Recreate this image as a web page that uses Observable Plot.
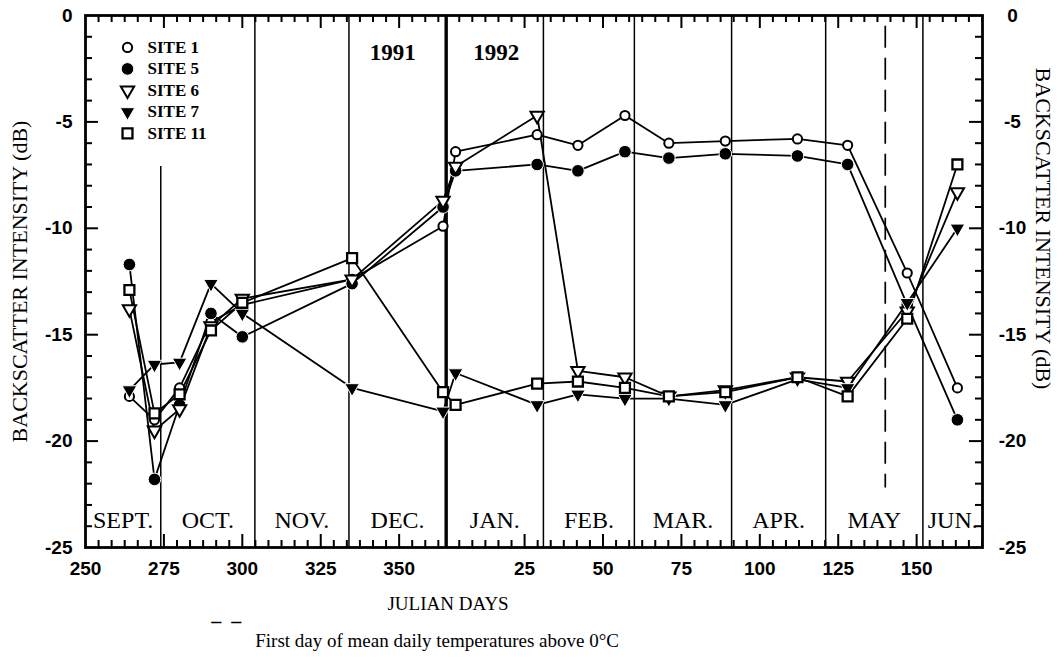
<!DOCTYPE html>
<html><head><meta charset="utf-8">
<script src="https://cdn.jsdelivr.net/npm/d3@7"></script>
<script src="https://cdn.jsdelivr.net/npm/@observablehq/plot@0.6"></script>
<style>body{margin:0;background:#fff}</style>
</head><body><div id="chart"></div>
<script>
// ---- data ----
const days1991 = [264, 272, 280, 290, 300, 335, 364];
const days1992 = [3, 29, 42, 57, 71, 89, 112, 128, 147, 163];
const site1  = [-17.9, -19.0, -17.5, -14.4, -13.6, -12.4, -9.9, -6.4, -5.6, -6.1, -4.7, -6.0, -5.9, -5.8, -6.1, -12.1, -17.5];
const site5  = [-11.7, -21.8, -18.3, -14.0, -15.1, -12.6, -9.0, -7.3, -7.0, -7.3, -6.4, -6.7, -6.5, -6.6, -7.0, -13.6, -19.0];
const site6  = [-13.8, -19.5, -18.5, -14.6, -13.3, -12.4, -8.7, -7.1, -4.7, -16.7, -17.0, -17.9, -17.6, -17.0, -17.2, -13.9, -8.3];
const site7  = [-17.6, -16.4, -16.3, -12.6, -14.0, -17.5, -18.6, -16.8, -18.3, -17.8, -18.0, -18.0, -18.3, -17.1, -17.5, -13.5, -10.0];
const site11 = [-12.9, -18.7, -17.8, -14.8, -13.5, -11.4, -17.7, -18.3, -17.3, -17.2, -17.5, -17.9, -17.7, -17.0, -17.9, -14.25, -7.0];
const sites = ["SITE 1", "SITE 5", "SITE 6", "SITE 7", "SITE 11"];
const monthLabels = ["SEPT.", "OCT.", "NOV.", "DEC.", "JAN.", "FEB.", "MAR.", "APR.", "MAY", "JUN."];
// month boundaries in days counted from 1 Jan 1991 (1992 days + 365)
const monthBounds = [250, 274, 304, 334, 365, 396, 425, 456, 486, 517, 536];
const xTicks1991 = [250, 275, 300, 325, 350];
const xTicks1992 = [25, 50, 75, 100, 125, 150];
const yTicks = [0, -5, -10, -15, -20, -25];
const yearLabels = ["1991", "1992"];
const thawDay1992 = 140;

// ---- layout ----
const W = 1064, H = 665;
const M = {top: 15, right: 82, bottom: 118, left: 85};
const xDomain = [250, 536], yDomain = [-25, 0];
const kx = (W - M.left - M.right) / (xDomain[1] - xDomain[0]);
const ky = (H - M.top - M.bottom) / (yDomain[1] - yDomain[0]);
const YEAR = 365;

const days = [...days1991, ...days1992.map(d => d + YEAR)];
const values = [site1, site5, site6, site7, site11];
const rows = sites.flatMap((s, i) => days.map((d, j) => ({site: s, day: d, v: values[i][j]})));

// tick positions: 6 subdivisions per 25 days, restarting each year
const step = 25 / 6;
const xMinor = [], xMajor = [];
for (let k = 1; 250 + k * step < YEAR - 0.01; k++) {
  const t = 250 + k * step;
  (Math.abs(t / 25 - Math.round(t / 25)) < 1e-6 ? xMajor : xMinor).push(t);
}
for (let k = 1; YEAR + k * step < xDomain[1]; k++) {
  const d = k * step;
  (Math.abs(d / 25 - Math.round(d / 25)) < 1e-6 ? xMajor : xMinor).push(YEAR + d);
}
const yMinor = d3.range(-24, 0).filter(v => v % 5 !== 0);
const yMajor = [-20, -15, -10, -5];

const triDown = {
  draw(ctx, size) {
    const s = Math.sqrt(size) * 1.25, h = s * Math.sqrt(3) / 2;
    ctx.moveTo(-s / 2, -h / 3);
    ctx.lineTo(s / 2, -h / 3);
    ctx.lineTo(0, 2 * h / 3);
    ctx.closePath();
  }
};
const markerStyles = [
  {symbol: "circle", fill: "white", stroke: "black", strokeWidth: 2, r: 4.6},
  {symbol: "circle", fill: "black", stroke: "white", strokeWidth: 1, r: 6.3},
  {symbol: triDown, fill: "white", stroke: "black", strokeWidth: 2, r: 6},
  {symbol: triDown, fill: "black", stroke: "white", strokeWidth: 1, r: 6.6},
  {symbol: "square", fill: "white", stroke: "black", strokeWidth: 2.3, r: 5.6}
];

const serif = "'Liberation Serif', 'Times New Roman', serif";
const sans = "'Liberation Sans', Arial, sans-serif";
const fmt = t => t > YEAR ? String(t - YEAR) : String(t);
const T = {fill: "black", lineAnchor: "middle"};

const marks = [
  // month separators
  Plot.ruleX(monthBounds.filter(d => d !== YEAR && d > 274 && d < 536), {x: d => d, stroke: "black", strokeWidth: 1.5}),
  Plot.ruleX([274], {x: d => d, y1: -7.1, y2: -25, stroke: "black", strokeWidth: 1.5}),
  Plot.ruleX([YEAR], {x: d => d, stroke: "black", strokeWidth: 3.4}),
  Plot.ruleX([thawDay1992 + YEAR], {x: d => d, y1: -0.5, y2: -22.2, stroke: "black", strokeWidth: 1.7, strokeDasharray: "22,10"}),
  // series lines
  Plot.line(rows, {x: "day", y: "v", z: "site", stroke: "black", strokeWidth: 1.8}),
  // markers
  ...sites.map((s, i) => Plot.dot(rows.filter(r => r.site === s), {x: "day", y: "v", ...markerStyles[i]})),
  // legend
  ...sites.map((s, i) => Plot.dot([s], {y: -1.5 - i * 1.01, frameAnchor: "left", dx: 42, ...markerStyles[i]})),
  Plot.text(sites, {y: (d, i) => -1.5 - i * 1.01, frameAnchor: "left", dx: 62, text: d => d, textAnchor: "start",
    fontFamily: serif, fontWeight: "bold", fontSize: 17, ...T}),
  // frame
  Plot.frame({stroke: "black", strokeWidth: 2.8}),
  // inward ticks
  Plot.ruleX(xMinor, {x: d => d, y1: -25, y2: -25 + 7 / ky, stroke: "black", strokeWidth: 2}),
  Plot.ruleX(xMajor, {x: d => d, y1: -25, y2: -25 + 13 / ky, stroke: "black", strokeWidth: 2}),
  Plot.ruleX(xMinor, {x: d => d, y1: 0, y2: -7 / ky, stroke: "black", strokeWidth: 2}),
  Plot.ruleX(xMajor, {x: d => d, y1: 0, y2: -13 / ky, stroke: "black", strokeWidth: 2}),
  Plot.ruleY(yMinor, {y: d => d, x1: 250, x2: 250 + 7 / kx, stroke: "black", strokeWidth: 2}),
  Plot.ruleY(yMajor, {y: d => d, x1: 250, x2: 250 + 13 / kx, stroke: "black", strokeWidth: 2}),
  Plot.ruleY(yMinor, {y: d => d, x1: 536, x2: 536 - 7 / kx, stroke: "black", strokeWidth: 2}),
  Plot.ruleY(yMajor, {y: d => d, x1: 536, x2: 536 - 13 / kx, stroke: "black", strokeWidth: 2}),
  // tick labels
  Plot.text([...xTicks1991, ...xTicks1992.map(d => d + YEAR)], {x: d => d, frameAnchor: "bottom", dy: 21, text: fmt,
    textAnchor: "middle", fontFamily: sans, fontWeight: "bold", fontSize: 19, ...T}),
  Plot.text(yTicks, {y: d => d, frameAnchor: "left", dx: -13, textAnchor: "end", text: d => String(d),
    fontFamily: sans, fontWeight: "bold", fontSize: 19, ...T}),
  Plot.text(yTicks, {y: d => d, frameAnchor: "right", dx: 30, textAnchor: "middle", text: d => String(d),
    fontFamily: sans, fontWeight: "bold", fontSize: 19, ...T}),
  // month labels
  Plot.text(monthLabels, {x: (d, i) => (monthBounds[i] + monthBounds[i + 1]) / 2, frameAnchor: "bottom", dy: -27,
    textAnchor: "middle", text: d => d, fontFamily: serif, fontSize: 24, ...T}),
  // year labels
  Plot.text(yearLabels, {x: (d, i) => YEAR + (i === 0 ? -17 : 16), frameAnchor: "top", dy: 37, text: d => d,
    textAnchor: "middle", fontFamily: serif, fontWeight: "bold", fontSize: 23, ...T}),
  // axis titles
  Plot.text(["BACKSCATTER INTENSITY (dB)"], {frameAnchor: "left", dx: -66, rotate: -90, text: d => d,
    textAnchor: "middle", fontFamily: serif, fontSize: 22, ...T}),
  Plot.text(["BACKSCATTER INTENSITY (dB)"], {frameAnchor: "right", dx: 61, dy: -53, rotate: 90, text: d => d,
    textAnchor: "middle", fontFamily: serif, fontSize: 22, ...T}),
  Plot.text(["JULIAN DAYS"], {x: 365.6, frameAnchor: "bottom", dy: 56, text: d => d,
    textAnchor: "middle", fontFamily: serif, fontSize: 19, ...T}),
  Plot.text(["\u2013\u00a0\u00a0\u2013"], {x: 294.9, frameAnchor: "bottom", dy: 74, text: d => d,
    textAnchor: "middle", fontFamily: serif, fontSize: 20, fontWeight: "bold", ...T}),
  Plot.text(["First day of mean daily temperatures above 0\u00b0C"], {x: 362.1, frameAnchor: "bottom", dy: 93, text: d => d,
    textAnchor: "middle", fontFamily: serif, fontSize: 19, ...T})
];

const chart = Plot.plot({
  width: W, height: H,
  marginTop: M.top, marginRight: M.right, marginBottom: M.bottom, marginLeft: M.left,
  x: {domain: xDomain, axis: null},
  y: {domain: yDomain, axis: null},
  style: {background: "white"},
  marks
});
document.getElementById("chart").append(chart);
</script>
</body></html>
